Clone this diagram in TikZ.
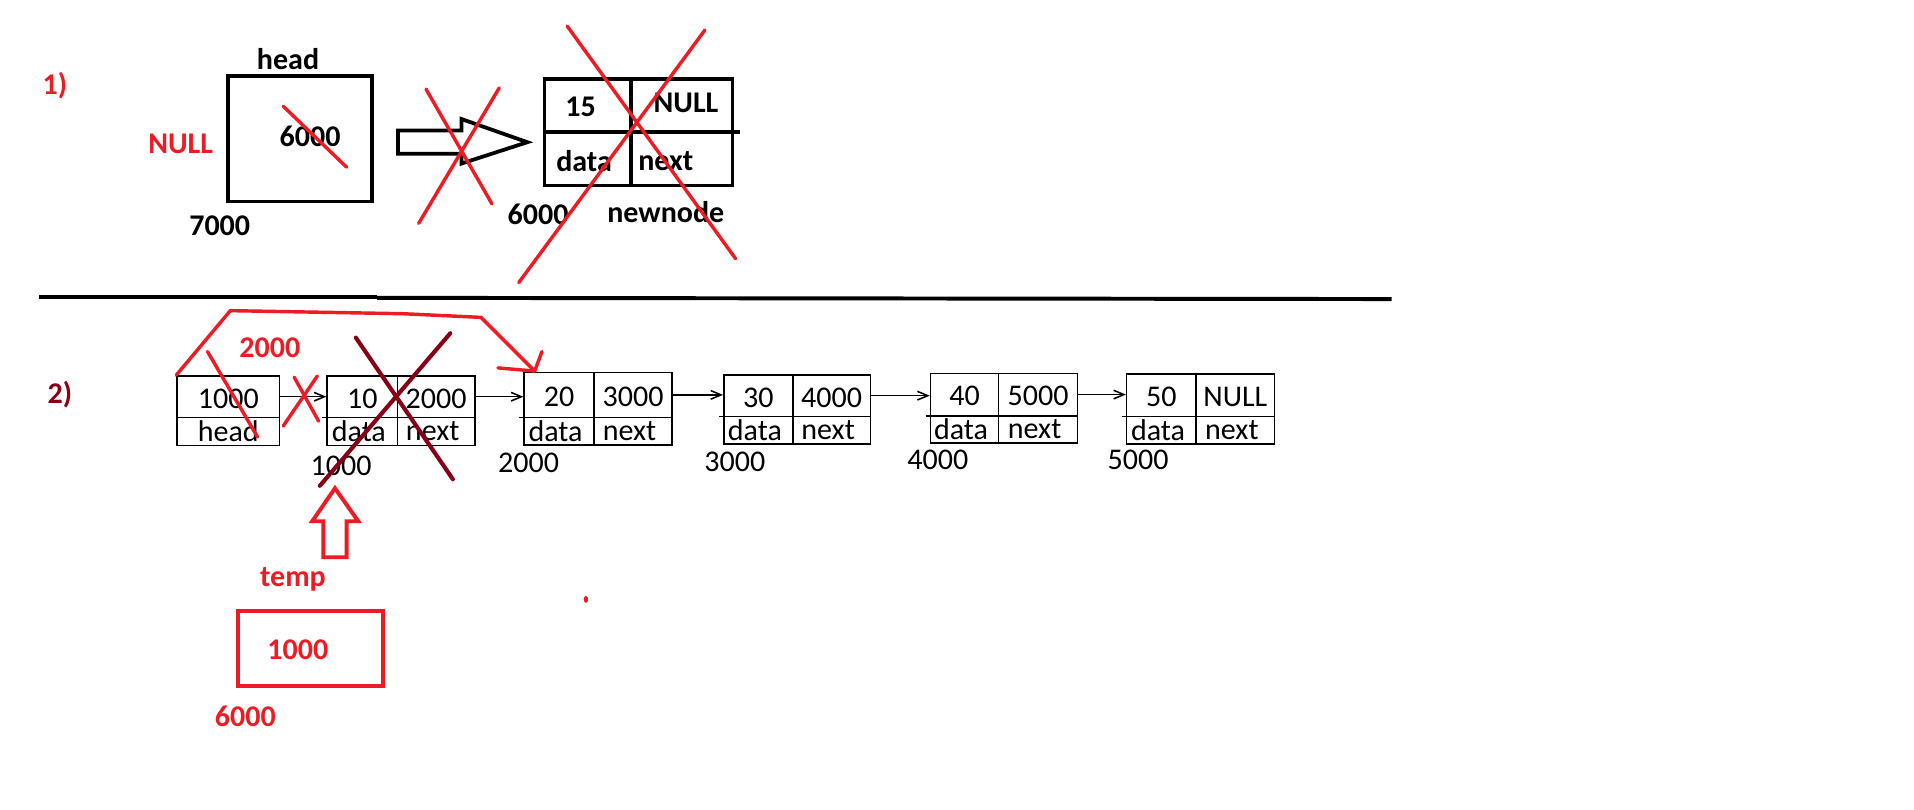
\documentclass[tikz,border=0pt]{standalone}
\usepackage{fontspec}
\setmainfont{Carlito}
\usetikzlibrary{fit,arrows.meta}
\definecolor{pred}{HTML}{ED1C24}
\definecolor{pdark}{HTML}{880015}
\newcommand\llnode[9]{%
  \node[cell, fit={(#2,#5) (#3,#6)}] (#1d) {};
  \node[cell, fit={(#3,#5) (#4,#6)}] (#1n) {};
  \node[cell, fit={(#2,#6) (#3,#7)}] (#1dl) {};
  \node[cell, fit={(#3,#6) (#4,#7)}] (#1nl) {};
  \node[txt] (#1dt) at ([yshift=-1pt]#1d.center) {#8};
  \node[txt] (#1nt) at ([yshift=-1pt]#1n.center) {#9};
  \node[txt] (#1dlt) at ([xshift=-2pt]#1dl.center) {data};
  \node[txt] (#1nlt) at ([xshift=-2pt]#1nl.center) {next};
  \draw[line width=0.9pt] ({#2-4},#6) -- (#2,#6);
}
\begin{document}
\begin{tikzpicture}[x=0.025cm,y=-0.025cm,
  lbl/.style={font=\fontsize{17.5}{20}\selectfont\bfseries, inner sep=0pt},
  rlbl/.style={lbl, text=pred},
  txt/.style={font=\fontsize{17.5}{20}\selectfont, inner sep=0pt},
  bigcell/.style={draw, line width=2.2pt, inner sep=0pt},
  cell/.style={draw, line width=0.9pt, inner sep=0pt},
  redline/.style={draw=pred, line width=2pt, line cap=round, line join=round},
  darkline/.style={draw=pdark, line width=2.4pt, line cap=round},
  llarrow/.style={line width=0.9pt, -{Straight Barb[length=6pt,width=5pt]}},
]
\useasboundingbox (0,0) rectangle (1568,663);

% ---------- section 1 ----------
\node[rlbl] (one) at (45,70) {1)};
\node[lbl] (headlbl) at (236,48) {head};
\node[bigcell, fit={(187,62) (305,165)}] (hbox) {};
\node[lbl] (hval) at (254,112) {6000};
\draw[redline] (232,87) -- (284,137);
\node[rlbl] (nulltxt) at (148,118) {NULL};
\node[lbl] (a7000) at (180,185) {7000};

% block arrow
\draw[line width=2.2pt, line join=miter]
  (326,107) -- (378,107) -- (378,97.5) -- (432,116.5) -- (378,134) -- (378,126) -- (326,126) -- cycle;
\draw[redline] (349,73) -- (403,167);
\draw[redline] (409,72) -- (343,183);

% newnode
\node[bigcell, fit={(446,65) (517,108)}] (nnv) {};
\node[bigcell, fit={(517,65) (600,108)}] (nnn) {};
\node[bigcell, fit={(446,108) (517,152)}] (nndl) {};
\node[bigcell, fit={(517,108) (600,152)}] (nnnl) {};
\draw[line width=2.2pt] (nnn.east |- 0,108) -- (606,108);
\node[lbl] (t15) at (475.6,87.4) {15};
\node[lbl] (tnull) at (562,84.6) {NULL};
\node[lbl] (tdata) at (478.5,131.6) {data};
\node[lbl] (tnext) at (545.4,131.6) {next};
\node[lbl] (a6000) at (440.8,175.5) {6000};
\node[lbl] (tnewnode) at (545.4,173.4) {newnode};
\draw[redline] (464.6,21.3) -- (602.6,211.9);
\draw[redline] (577.5,24.6) -- (425,231.5);

% separator
\draw[line width=2.3pt] (32,243) -- (309,243);
\draw[line width=2.3pt] (309,244) -- (1140,245);

% ---------- section 2 ----------
\node[lbl, text=pdark] (two) at (49,323) {2)};
\node[cell, fit={(145,308) (229,342)}] (hdv) {};
\node[cell, fit={(145,342) (229,365)}] (hdl) {};
\node[txt] (hdvt) at ([yshift=-1pt]hdv.center) {1000};
\node[txt] (hdlt) at (hdl.center) {head};

\llnode{n1}{268}{325.6}{389}{308}{342}{365}{10}{2000}
\llnode{n2}{429.4}{486.5}{550.7}{305}{342}{364.5}{20}{3000}
\llnode{n3}{593}{649.5}{713}{307}{341.3}{363.6}{30}{4000}
\llnode{n4}{762.3}{818}{882.8}{305.8}{340.7}{363}{40}{5000}
\llnode{n5}{923}{980}{1044}{306.3}{341.3}{363.6}{50}{NULL}

\node[txt] (ad1) at (279.4,382) {1000};
\node[txt] (ad2) at (433,379.5) {2000};
\node[txt] (ad3) at (602,378) {3000};
\node[txt] (ad4) at (768.3,376.8) {4000};
\node[txt] (ad5) at (932.4,376.8) {5000};

\draw[llarrow] (hdv.east) -- (hdv.east -| n1d.west);
\draw[llarrow] (n1n.east) -- (n1n.east -| n2d.west);
\draw[llarrow] (n2n.east) -- (n2n.east -| n3d.west);
\draw[llarrow] (n3n.east) -- (n3n.east -| n4d.west);
\draw[llarrow] (n4n.east) -- (n4n.east -| n5d.west);

% red edits
\node[rlbl] (r2000) at (221,285) {2000};
\draw[redline] (170,288) -- (211,358);
\draw[redline] (241,309) -- (261,345);
\draw[redline] (260,308) -- (232,349);
\coordinate (tip) at (438,304);
\draw[redline] (hdv.north west) -- (188.7,254.5) -- (330,257) -- (394,260) -- (tip);
\draw[redline] (408,301.4) -- (tip);
\draw[redline] (444,288) -- (tip);

% dark red X
\draw[darkline] (291.5,276.6) -- (371,392.6);
\draw[darkline] (368.9,273) -- (262,398);

% temp pointer
\draw[draw=pred, line width=2.3pt, line join=miter]
  (274.4,400) -- (293.5,427) -- (284,427) -- (284,456.5) -- (264.9,456.5) -- (264.9,427) -- (255.8,427) -- cycle;
\node[rlbl] (ttemp) at (240,475) {temp};
\node[draw=pred, line width=2.4pt, inner sep=0pt, fit={(195.2,500.5) (314,562)}] (tbox) {};
\node[rlbl] (tval) at (244,532) {1000};
\node[rlbl] (taddr) at (201,586.5) {6000};
\fill[pred] (480,491) ellipse [x radius=1.3pt, y radius=2pt];
\end{tikzpicture}
\end{document}
